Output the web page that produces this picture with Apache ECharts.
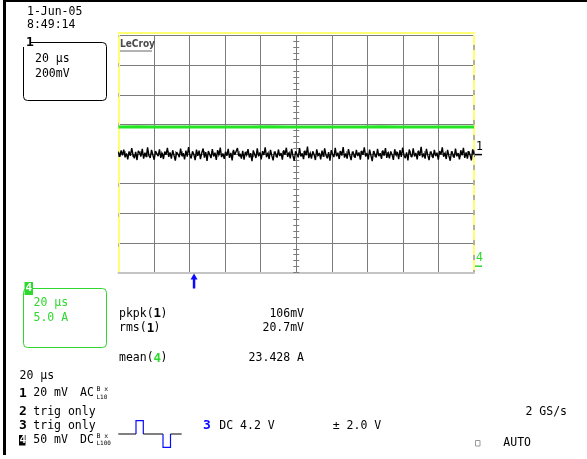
<!DOCTYPE html>
<html><head><meta charset="utf-8">
<script src="https://cdn.jsdelivr.net/npm/echarts@6/dist/echarts.min.js"></script>
<style>html,body{margin:0;padding:0;background:#fff}#c{width:587px;height:459px}</style>
</head><body><div id="c"></div>
<script>
// ---- scope settings ----
const timebaseUsPerDiv = 20;
const ch1MvPerDiv = 200;
const ch4AmpsPerDiv = 5;
const ch4OffsetDiv = -3.77;
const triggerUs = -57.5;

// ---- channel 1 (AC noise, mV) ----
const ch1NoiseMv = [12,-18,25,-8,30,-22,5,-35,18,-12,40,-5,-28,15,-40,22,8,-15,35,-30,10,-20,45,-10,-25,28,-6,-38,20,3,
-14,32,-26,9,-33,17,-4,42,-19,11,-31,26,-9,-44,14,0,-21,37,-13,6,-36,24,-17,48,-7,-29,19,-2,-41,30,
-11,23,-34,7,38,-24,13,-46,21,-3,-27,33,-16,10,-39,27,-8,44,-20,4,-32,16,-12,36,-25,8,-43,29,-5,-18,
41,-14,2,-30,22,-37,15,-9,34,-23,6,-47,25,-1,-26,39,-15,11,-35,20,-6,46,-21,9,-33,28,-10,-42,17,3,
-24,31,-13,7,-38,26,-4,43,-19,12,-29,35,-11,-45,18,1,-22,40,-16,5,-34,23,-8,50,-27,10,-31,19,-3,-40,
32,-12,8,-36,24,-18,38,-7,-28,14,-44,27,-2,-20,42,-15,9,-33,21,-10,47,-24,4,-30,34,-6,-41,16,2,-25,
29,-13,11,-37,22,-5,45,-17,7,-35,30,-9,-48,20,0,-23,36,-14,6,-32,25,-11,41,-26,13,-29,18,-4,-39,33,
-10,15,-34,27,-19,44,-8,-27,12,-43,31,-1,-21,39,-16,8,-36,23,-12,49,-22,5,-31,35,-7,-40,17,3,-26,28,
-14,10,-38,21,-3,46,-18,9,-33,29,-11,-45,19,1,-24,37,-15,7,-35,26,-9,42,-25,12,-30,20,-5,-42,32,-2];

// ---- channel 4 (current, A) ----
const ch4CurrentA = [23.43,23.45,23.42,23.44,23.43,23.41,23.44,23.43,23.45,23.42,23.43,23.44,23.42,23.43,23.45,23.43,23.42,23.44,23.43,23.43];

// ---- text ----
const headerLines = ['1-Jun-05','8:49:14'];
const ch1BoxLines = ['20 \u03bcs','200mV'];
const ch4BoxLines = ['20 \u03bcs','5.0 A'];
const measNames = ['pkpk(','rms(','mean('];
const measSrc = ['1','1','4'];
const measValues = ['106mV','20.7mV','23.428 A'];
const timebaseLabel = '20 \u03bcs';
const chanRows = [
  {n:'1', t:'20 mV', cpl:'AC', bw:'L10'},
  {n:'2', t:'trig only'},
  {n:'3', t:'trig only'},
  {n:'4', t:'50 mV', cpl:'DC', bw:'L100'}
];
const trigText = ['3','DC 4.2 V','\u00b1 2.0 V'];
const sampleRate = '2 GS/s';
const trigMode = 'AUTO';

const FONT = '"DejaVu Sans Mono", monospace';
const CW = 6.92;
const GREEN = '#2fd82f';
const TRACE_GREEN = '#22e622';
const BLUE = '#0a0aff';
const GRID = '#7c7c7c';
const YELLOW = '#ffff70';

const ch1Data = ch1NoiseMv.map((v,i)=>[-5*timebaseUsPerDiv + i*10*timebaseUsPerDiv/(ch1NoiseMv.length-1), v/ch1MvPerDiv]);
const ch4Data = ch4CurrentA.map((a,i)=>[-5*timebaseUsPerDiv + i*10*timebaseUsPerDiv/(ch4CurrentA.length-1), ch4OffsetDiv + a/ch4AmpsPerDiv]);

const chart = echarts.init(document.getElementById('c'), null, {renderer:'canvas'});
const hidden = {axisLabel:{show:false}, splitLine:{show:false}, axisTick:{show:false}};
const xBase = {type:'value', min:-100, max:100, interval:20};
const yBase = {type:'value', min:-4, max:4, interval:1};
const centreTick = (inside)=>({axisTick:{show:true, inside, length:3, lineStyle:{color:GRID}}, minorTick:{show:true, splitNumber:5, length:3, lineStyle:{color:GRID}}, axisLabel:{show:false}, splitLine:{show:false}});

const option = {
  animation:false,
  backgroundColor:'#fff',
  grid:{left:118.5, top:35.7, width:355.5, height:236.8, show:false},
  xAxis:[
    Object.assign({}, xBase, {position:'bottom', axisLine:{onZero:false, lineStyle:{color:'#c4c4c4', width:2}}, axisTick:{show:false}, axisLabel:{show:false},
      splitLine:{show:true, showMinLine:false, showMaxLine:false, lineStyle:{color:GRID, width:1}}}),
    Object.assign({}, xBase, {position:'bottom', axisLine:{onZero:true, onZeroAxisIndex:0, lineStyle:{color:GRID}}}, centreTick(false)),
    Object.assign({}, xBase, {position:'bottom', axisLine:{onZero:true, onZeroAxisIndex:0, lineStyle:{color:GRID}}}, centreTick(true)),
    Object.assign({}, xBase, hidden, {position:'top', offset:2.5, axisLine:{onZero:false, lineStyle:{color:YELLOW, width:2}}})
  ],
  yAxis:[
    Object.assign({}, yBase, {position:'left', axisLine:{onZero:false, lineStyle:{color:YELLOW, width:2}}, axisTick:{show:false}, axisLabel:{show:false},
      splitLine:{show:true, showMinLine:false, showMaxLine:true, lineStyle:{color:GRID, width:1}}}),
    Object.assign({}, yBase, {position:'left', axisLine:{onZero:true, onZeroAxisIndex:0, lineStyle:{color:GRID}}}, centreTick(false)),
    Object.assign({}, yBase, {position:'left', axisLine:{onZero:true, onZeroAxisIndex:0, lineStyle:{color:GRID}}}, centreTick(true)),
    Object.assign({}, yBase, hidden, {position:'right', axisLine:{onZero:false, lineStyle:{color:YELLOW, width:2}}}),
    Object.assign({}, yBase, hidden, {position:'right', axisLine:{onZero:false, lineStyle:{color:'#999', width:1.5, type:[4,11], dashOffset:2}}}),
    Object.assign({}, yBase, hidden, {position:'left', axisLine:{onZero:false, lineStyle:{color:'#bbb', width:1, type:[3,27], dashOffset:4}}})
  ],
  series:[
    {type:'line', name:'ch1', data:ch1Data, xAxisIndex:0, yAxisIndex:0, symbol:'none', lineStyle:{color:'#000', width:1.4}, z:3},
    {type:'line', name:'ch4', data:ch4Data, xAxisIndex:0, yAxisIndex:0, symbol:'none', lineStyle:{color:TRACE_GREEN, width:3}, z:4}
  ]
};
chart.setOption(option);

const p1 = chart.convertToPixel({xAxisIndex:0, yAxisIndex:0}, [100, 0]);
const p4 = chart.convertToPixel({xAxisIndex:0, yAxisIndex:0}, [100, ch4OffsetDiv]);
const pt = chart.convertToPixel({xAxisIndex:0, yAxisIndex:0}, [triggerUs, -4]);

function txt(x, y, text, opts){
  opts = opts || {};
  return {type:'text', z:100, style:{x, y, text, fill:opts.fill||'#000', align:opts.align||'left', verticalAlign:'middle',
    font:(opts.bold?'bold ':'') + (opts.size||11.5) + 'px ' + (opts.family||FONT)}};
}
const g = [];
// frame
g.push({type:'line', shape:{x1:4.5,y1:0,x2:4.5,y2:455}, style:{stroke:'#000', lineWidth:3}});
g.push({type:'line', shape:{x1:3,y1:1,x2:587,y2:1}, style:{stroke:'#000', lineWidth:2}});
// header
g.push(txt(27, 12, headerLines[0]));
g.push(txt(27, 25, headerLines[1]));
// channel 1 box
g.push({type:'rect', shape:{x:23.5, y:42.5, width:83, height:58, r:4}, style:{fill:'none', stroke:'#000', lineWidth:1}});
g.push({type:'rect', shape:{x:22, y:37, width:9, height:10}, style:{fill:'#fff'}, z:99});
g.push(txt(26, 43, '1', {bold:true, size:13}));
g.push(txt(35, 59, ch1BoxLines[0]));
g.push(txt(35, 74, ch1BoxLines[1]));
// LeCroy logo
g.push(txt(120, 44, 'LeCroy', {bold:true, size:10, family:'"DejaVu Sans Condensed", sans-serif', fill:'#4a4a4a'}));
g.push({type:'line', shape:{x1:120, y1:51, x2:152, y2:51}, style:{stroke:'#666', lineWidth:1}, z:100});
// channel markers
g.push(txt(p1[0]+2, p1[1]-7, '1'));
g.push({type:'line', shape:{x1:p1[0]+1, y1:p1[1]+0.5, x2:p1[0]+8, y2:p1[1]+0.5}, style:{stroke:'#000', lineWidth:1.5}, z:100});
g.push(txt(p4[0]+2, p4[1]-8, '4', {fill:GREEN}));
g.push({type:'line', shape:{x1:p4[0]+1, y1:p4[1]+0.5, x2:p4[0]+8, y2:p4[1]+0.5}, style:{stroke:GREEN, lineWidth:1.5}, z:100});
// trigger arrow
g.push({type:'line', shape:{x1:pt[0], y1:pt[1]+5, x2:pt[0], y2:pt[1]+16}, style:{stroke:BLUE, lineWidth:2.5}, z:100});
g.push({type:'polygon', shape:{points:[[pt[0]-3.5, pt[1]+7],[pt[0]+3.5, pt[1]+7],[pt[0], pt[1]+1]]}, style:{fill:BLUE}, z:100});
// channel 4 box
g.push({type:'rect', shape:{x:23.5, y:288.5, width:83, height:59, r:4}, style:{fill:'none', stroke:GREEN, lineWidth:1}});
g.push({type:'rect', shape:{x:24.5, y:282, width:8.5, height:13}, style:{fill:GREEN}, z:99});
g.push(txt(25.5, 288.5, '4', {fill:'#fff', bold:true, size:11}));
g.push(txt(33.5, 303, ch4BoxLines[0], {fill:GREEN}));
g.push(txt(33.5, 318.5, ch4BoxLines[1], {fill:GREEN}));
// measurements
const measY = [314, 328.5, 358.5];
measNames.forEach((n,i)=>{
  g.push(txt(119, measY[i], n));
  const x = 119 + n.length*CW;
  g.push(txt(x, measY[i], measSrc[i], {bold:true, size:12.5, fill: measSrc[i]==='4'?GREEN:'#000'}));
  g.push(txt(x + CW, measY[i], ')'));
  g.push(txt(304, measY[i], measValues[i], {align:'right'}));
});
// timebase
g.push(txt(19.5, 376, timebaseLabel));
// channel rows
const rowY = [393.5, 412, 426, 440];
chanRows.forEach((r,i)=>{
  if (r.n === '4') {
    g.push({type:'rect', shape:{x:19, y:rowY[i]-5, width:6.5, height:10.5}, style:{fill:'#000'}, z:99});
    g.push(txt(19.5, rowY[i]+0.5, r.n, {bold:true, size:11, fill:'#fff'}));
  } else {
    g.push(txt(19, rowY[i], r.n, {bold:true, size:13}));
  }
  g.push(txt(33.3, rowY[i], r.t));
  if (r.cpl) {
    g.push(txt(80, rowY[i], r.cpl));
    g.push(txt(96.5, rowY[i]-4, 'B\u2009x', {size:6.5}));
    g.push(txt(96.5, rowY[i]+3.5, r.bw, {size:6}));
  }
});
// pulse icon
g.push({type:'polyline', shape:{points:[[118.3,434],[136,434]]}, style:{stroke:'#000', lineWidth:1}, z:100});
g.push({type:'polyline', shape:{points:[[136,434],[136,420.7],[143.3,420.7],[143.3,434]]}, style:{stroke:BLUE, lineWidth:1.2, fill:'none'}, z:100});
g.push({type:'polyline', shape:{points:[[143.3,434],[163,434]]}, style:{stroke:'#000', lineWidth:1}, z:100});
g.push({type:'polyline', shape:{points:[[163,434],[163,447.3],[170.5,447.3],[170.5,434]]}, style:{stroke:BLUE, lineWidth:1.2, fill:'none'}, z:100});
g.push({type:'polyline', shape:{points:[[170.5,434],[181.7,434]]}, style:{stroke:'#000', lineWidth:1}, z:100});
// trigger
g.push(txt(203, 426, trigText[0], {bold:true, size:13, fill:BLUE}));
g.push(txt(219.3, 426, trigText[1]));
g.push(txt(332.7, 426, trigText[2]));
g.push(txt(567, 412, sampleRate, {align:'right'}));
g.push({type:'rect', shape:{x:475.5, y:440.5, width:4.5, height:5.5}, style:{fill:'none', stroke:'#999', lineWidth:1}, z:100});
g.push(txt(503.3, 443, trigMode));

chart.setOption({graphic:{elements:g}});
</script></body></html>
